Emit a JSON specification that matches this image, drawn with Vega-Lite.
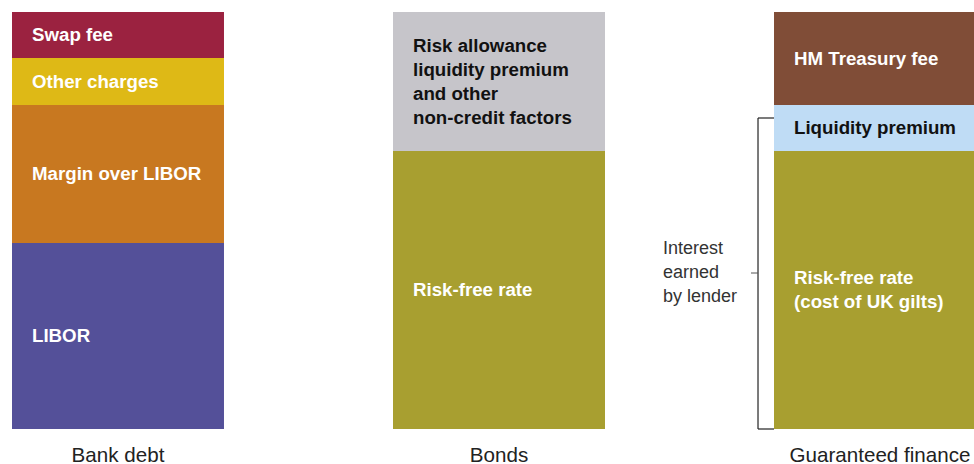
{
  "$schema": "https://vega.github.io/schema/vega-lite/v6.json",
  "autosize": "none",
  "width": 974,
  "height": 417,
  "padding": {"left": 12, "top": 12, "right": 0, "bottom": 35},
  "background": "white",
  "config": {
    "view": {"stroke": null},
    "axisX": {"domain": false, "ticks": false, "grid": false, "labelAngle": 0, "labelFont": "Liberation Sans", "labelFontSize": 20.6, "labelColor": "#222222", "labelPadding": 16, "labelBaseline": "top", "labelLimit": 0, "labelOverlap": false, "labelBound": false}
  },
  "datasets": {
    "segments": [
      {"column": "Bank debt", "segment": "LIBOR", "label": "LIBOR", "value": 186, "rank": 1},
      {"column": "Bank debt", "segment": "Margin over LIBOR", "label": "Margin over LIBOR", "value": 138, "rank": 2},
      {"column": "Bank debt", "segment": "Other charges", "label": "Other charges", "value": 47, "rank": 3},
      {"column": "Bank debt", "segment": "Swap fee", "label": "Swap fee", "value": 46, "rank": 4},
      {"column": "Bonds", "segment": "Risk-free rate", "label": "Risk-free rate", "value": 278, "rank": 1},
      {"column": "Bonds", "segment": "Risk allowance", "label": "Risk allowance\nliquidity premium\nand other\nnon-credit factors", "value": 139, "rank": 2},
      {"column": "Guaranteed finance", "segment": "Risk-free rate", "label": "Risk-free rate\n(cost of UK gilts)", "value": 278, "rank": 1},
      {"column": "Guaranteed finance", "segment": "Liquidity premium", "label": "Liquidity premium", "value": 46, "rank": 2},
      {"column": "Guaranteed finance", "segment": "HM Treasury fee", "label": "HM Treasury fee", "value": 93, "rank": 3}
    ],
    "note": [
      {"column": "Guaranteed finance", "text": "Interest\nearned\nby lender", "top": 311, "mid": 156, "bottom": 0}
    ]
  },
  "layer": [
    {
      "data": {"name": "segments"},
      "transform": [
        {"stack": "value", "groupby": ["column"], "sort": [{"field": "rank", "order": "ascending"}], "as": ["y0", "y1"]}
      ],
      "mark": {"type": "bar", "stroke": null},
      "encoding": {
        "x": {"field": "column", "type": "nominal", "title": null,
              "scale": {"domain": ["Bank debt", "Bonds", "Guaranteed finance"], "paddingInner": 0.4436, "paddingOuter": 0}},
        "y": {"field": "y0", "type": "quantitative", "axis": null, "scale": {"domain": [0, 417], "nice": false, "zero": true}},
        "y2": {"field": "y1"},
        "color": {"field": "segment", "type": "nominal", "legend": null,
                  "scale": {"domain": ["Swap fee", "Other charges", "Margin over LIBOR", "LIBOR", "Risk allowance", "Risk-free rate", "HM Treasury fee", "Liquidity premium"],
                            "range": ["#9B2240", "#DEB916", "#C87820", "#545099", "#C6C5CA", "#A89F30", "#804D37", "#BFDCF5"]}}
      }
    },
    {
      "data": {"name": "segments"},
      "transform": [
        {"stack": "value", "groupby": ["column"], "sort": [{"field": "rank", "order": "ascending"}], "as": ["y0", "y1"]},
        {"calculate": "(datum.y0 + datum.y1) / 2 + (length(split(datum.label, '\\n')) - 1) * 12", "as": "ymid"}
      ],
      "mark": {"type": "text", "align": "left", "baseline": "middle", "dx": 20, "font": "Liberation Sans", "fontWeight": "bold", "fontSize": 18.7, "lineHeight": 24, "lineBreak": "\n"},
      "encoding": {
        "x": {"field": "column", "type": "nominal", "bandPosition": 0, "title": null},
        "y": {"field": "ymid", "type": "quantitative", "axis": null},
        "text": {"field": "label", "type": "nominal"},
        "color": {"condition": {"test": "datum.segment === 'Risk allowance' || datum.segment === 'Liquidity premium'", "value": "#111111"}, "value": "#ffffff"}
      }
    },
    {
      "data": {"name": "note"},
      "mark": {"type": "rule", "xOffset": -16, "color": "#222222", "strokeWidth": 1.2},
      "encoding": {
        "x": {"field": "column", "type": "nominal", "bandPosition": 0, "title": null},
        "y": {"field": "bottom", "type": "quantitative", "axis": null},
        "y2": {"field": "top"}
      }
    },
    {
      "data": {"name": "note"},
      "mark": {"type": "rule", "xOffset": -16, "x2Offset": 0, "color": "#222222", "strokeWidth": 1.2},
      "encoding": {
        "x": {"field": "column", "type": "nominal", "bandPosition": 0, "title": null},
        "x2": {"field": "column", "bandPosition": 0},
        "y": {"field": "top", "type": "quantitative", "axis": null}
      }
    },
    {
      "data": {"name": "note"},
      "mark": {"type": "rule", "xOffset": -16, "x2Offset": 0, "color": "#222222", "strokeWidth": 1.2},
      "encoding": {
        "x": {"field": "column", "type": "nominal", "bandPosition": 0, "title": null},
        "x2": {"field": "column", "bandPosition": 0},
        "y": {"field": "bottom", "type": "quantitative", "axis": null}
      }
    },
    {
      "data": {"name": "note"},
      "mark": {"type": "rule", "xOffset": -23, "x2Offset": -16, "color": "#555555", "strokeWidth": 1},
      "encoding": {
        "x": {"field": "column", "type": "nominal", "bandPosition": 0, "title": null},
        "x2": {"field": "column", "bandPosition": 0},
        "y": {"field": "mid", "type": "quantitative", "axis": null}
      }
    },
    {
      "data": {"name": "note"},
      "mark": {"type": "text", "align": "left", "baseline": "middle", "dx": -111, "dy": -24, "font": "Liberation Sans", "fontSize": 18, "lineHeight": 24, "lineBreak": "\n", "color": "#333333"},
      "encoding": {
        "x": {"field": "column", "type": "nominal", "bandPosition": 0, "title": null},
        "y": {"field": "mid", "type": "quantitative", "axis": null},
        "text": {"field": "text", "type": "nominal"}
      }
    }
  ]
}
